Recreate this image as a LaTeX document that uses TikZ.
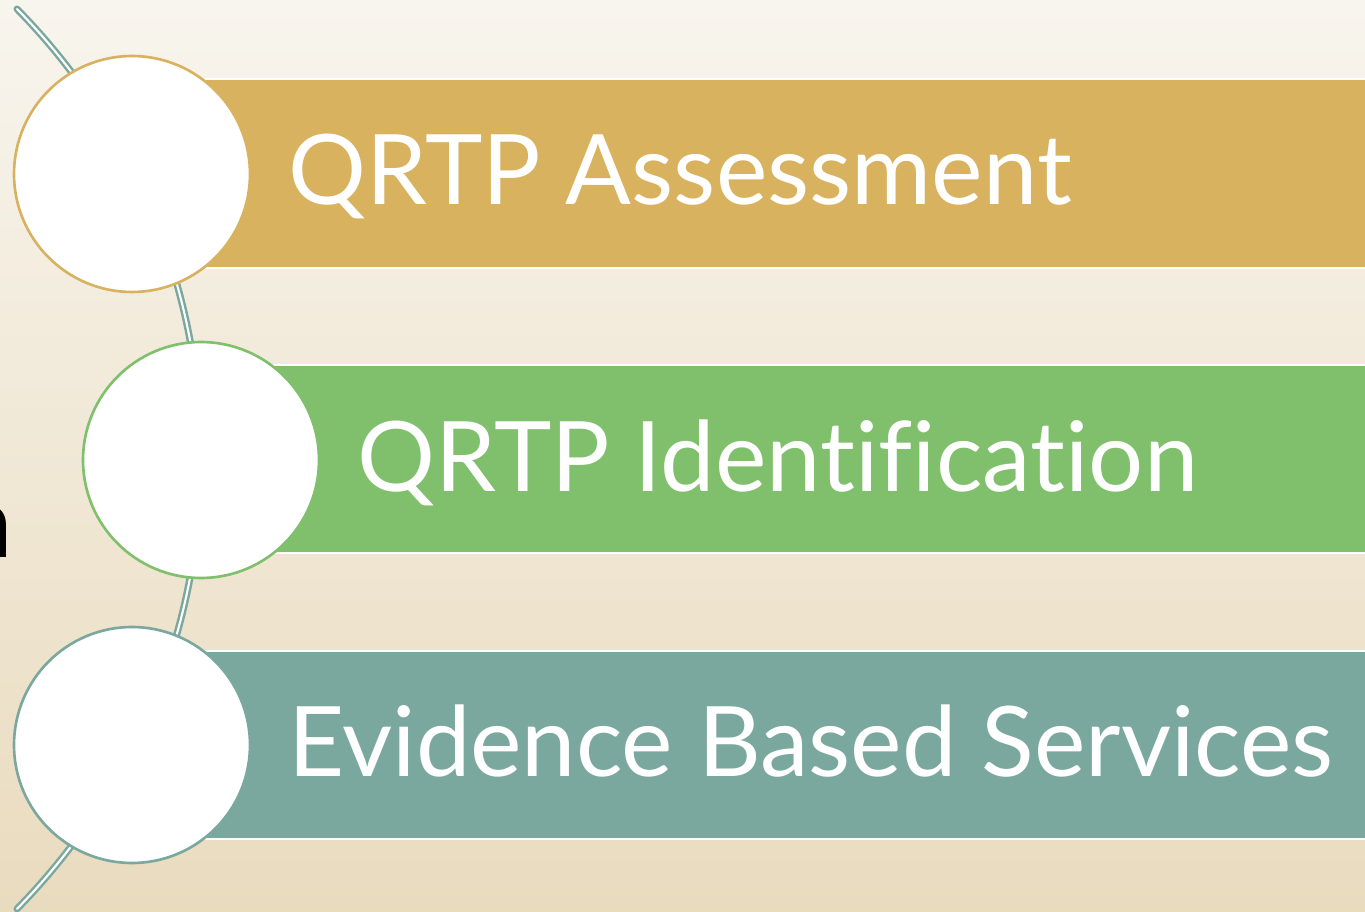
\documentclass[tikz,border=0pt]{standalone}
\usepackage{fontspec}
\setmainfont[Ligatures=NoCommon]{Lato}
\definecolor{bandgold}{HTML}{D8B25F}
\definecolor{bandgreen}{HTML}{80C06C}
\definecolor{bandteal}{HTML}{7BA89E}
\definecolor{bgtop}{HTML}{F8F5EE}
\definecolor{bgmid}{HTML}{F4EDE1}
\definecolor{bgbot}{HTML}{E9DBBE}
\tikzset{
  band/.style={fill=#1, draw=white, line width=1.2pt},
  disc/.style={circle, fill=white, draw=#1, line width=1.5pt, minimum size=4.72cm, inner sep=0pt},
  bandtext/.style={anchor=base west, text=white, font=\fontsize{55.4}{60}\selectfont, inner sep=0pt},
}
\begin{document}
\begin{tikzpicture}[x=0.02cm,y=-0.02cm]
   \useasboundingbox (0,0) rectangle (1365,912);
   % background
   \shade[top color=bgtop, middle color=bgmid, bottom color=bgbot] (0,0) rectangle (1365,912);
   % cut-off word at the left edge
   \node[anchor=base east, font=\bfseries\fontsize{56}{60}\selectfont, inner sep=0pt] (word) at (12,557) {n};
   % the double arc behind the circles
   \draw[bandteal, line width=1.4pt, double=white, double distance=1.2pt, line cap=round]
      (17,9) arc[start angle=-44.5, end angle=44.5, radius=642];
   % bands
   \draw[band=bandgold]  (133,79)  rectangle (1375,268);
   \draw[band=bandgreen] (201,365) rectangle (1375,553);
   \draw[band=bandteal]  (133,651) rectangle (1375,839);
   % circles
   \node[disc=bandgold]  (c1) at (132,174) {};
   \node[disc=bandgreen] (c2) at (201,460) {};
   \node[disc=bandteal]  (c3) at (132,745) {};
   % labels
   \node[bandtext] (t1) at (288,205) {QRTP Assessment};
   \node[bandtext] (t2) at (357,491) {QRTP Identification};
   \node[bandtext] (t3) at (288,776) {Evidence Based Services};
\end{tikzpicture}
\end{document}
